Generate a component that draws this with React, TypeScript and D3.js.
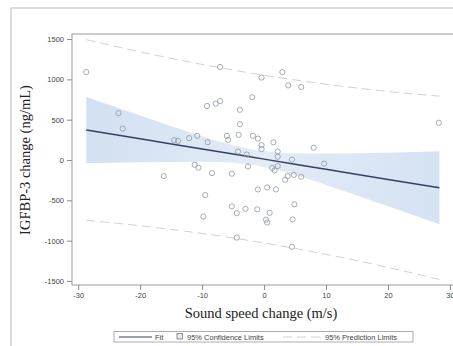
import React, { useEffect, useRef } from "react";
import * as d3 from "d3";

const xTicks = [-30, -20, -10, 0, 10, 20, 30];
const yTicks = [-1500, -1000, -500, 0, 500, 1000, 1500];

const pointX = [
  -28.7, -23.5, -22.8, -14.5, -13.9, -12.1, -10.8, -9.1, -7.1, -0.4, 2.95, 3.9, 6.0, -1.9, -3.9, -7.1,
  -7.8, -9.2, -3.9, -6.0, -5.8, -4.1, -1.8, -1.0, -0.4, -0.4, 1.5, -4.2, -2.8, 2.2, 2.2, 4.5, 8.0, 9.7,
  28.2, -11.2, -10.6, -8.4, -5.2, -2.6, 1.3, 1.7, 2.2, 3.4, 3.8, 4.8, 6.0, -16.2, -1.0, 0.5, 1.9, -9.5,
  -5.2, -4.4, -3.0, -1.1, 0.9, 4.9, -9.8, 0.3, 0.5, 4.6, -4.4, 4.5,
];
const pointY = [
  1090, 580, 390, 246, 238, 271, 300, 220, 1154, 1022, 1090, 925, 905, 778, 622, 730, 698, 670, 443, 298,
  250, 312, 300, 265, 185, 135, 220, 105, 68, 105, 40, 5, 152, -45, 462, -60, -95, -162, -170, -80, -98,
  -128, -75, -245, -200, -185, -208, -200, -365, -340, -365, -435, -575, -660, -605, -612, -655, -550,
  -700, -740, -775, -737, -962, -1075,
];

const bandX = [-28.7, -20, -10, -5, 0, 5, 10, 20, 28.3];
const fitY = [372, 263, 137, 74, 11, -52, -115, -241, -345];
const clUpper = [782, 553, 295, 182, 109, 83, 80, 91, 110];
const clLower = [-38, -27, -21, -34, -87, -187, -310, -573, -796];
const plUpper = [1492, 1341, 1185, 1115, 1051, 993, 940, 850, 792];
const plLower = [-748, -815, -911, -967, -1029, -1097, -1170, -1332, -1482];

const W = 453;
const H = 346;

export default function App() {
  const xAxisRef = useRef<SVGGElement>(null);
  const yAxisRef = useRef<SVGGElement>(null);

  const x = d3.scaleLinear().domain([-31, 31.3]).range([72, 458]);
  const y = d3.scaleLinear().domain([-1550, 1562.5]).range([285, 34]);

  useEffect(() => {
    const fmt = (d: any) => String(d);
    const xa = d3.axisBottom(x).tickValues(xTicks).tickFormat(fmt).tickSize(5).tickPadding(3).tickSizeOuter(0);
    const ya = d3.axisLeft(y).tickValues(yTicks).tickFormat(fmt).tickSize(5).tickPadding(3).tickSizeOuter(0);
    const gx = d3.select(xAxisRef.current!);
    gx.call(xa as any);
    const gy = d3.select(yAxisRef.current!);
    gy.call(ya as any);
    [gx, gy].forEach((g) => {
      g.select(".domain").remove();
      g.selectAll(".tick line").attr("stroke", "#8c8c8c").attr("stroke-width", 1);
      g.selectAll(".tick text")
        .attr("fill", "#444")
        .style("font-family", "'Liberation Sans', Arial, sans-serif")
        .style("font-size", "7.5px");
    });
  }, []);

  const idx = bandX.map((_, i) => i);
  const areaCL = d3
    .area<number>()
    .x((i) => x(bandX[i]))
    .y0((i) => y(clLower[i]))
    .y1((i) => y(clUpper[i]))
    .curve(d3.curveMonotoneX);
  const lineOf = (arr: number[]) =>
    d3
      .line<number>()
      .x((i) => x(bandX[i]))
      .y((i) => y(arr[i]))
      .curve(d3.curveMonotoneX)(idx) || "";

  return (
    <svg
      width={W}
      height={H}
      style={{ position: "absolute", left: 0, top: 0, background: "#fff" }}
    >
      <defs>
        <clipPath id="plotClip">
          <rect x={72} y={34} width={386} height={251} />
        </clipPath>
        <linearGradient id="bandGrad" x1="0" y1="0" x2="1" y2="0">
          <stop offset="0%" stopColor="#d3e0f1" />
          <stop offset="50%" stopColor="#e3ecf7" />
          <stop offset="100%" stopColor="#d5e2f2" />
        </linearGradient>
      </defs>
      {/* outer frame */}
      <rect x={11} y={8} width={470} height={370} fill="#fff" stroke="#c6c6c6" strokeWidth={1.2} />
      {/* plot frame */}
      <rect x={72} y={34} width={386} height={251} fill="#fff" stroke="#9a9a9a" strokeWidth={1} />
      <g clipPath="url(#plotClip)">
        <path d={areaCL(idx) || ""} fill="url(#bandGrad)" />
        <path d={lineOf(plUpper)} fill="none" stroke="#d2d2d2" strokeWidth={1} strokeDasharray="9,5" />
        <path d={lineOf(plLower)} fill="none" stroke="#d2d2d2" strokeWidth={1} strokeDasharray="9,5" />
        <path d={lineOf(fitY)} fill="none" stroke="#33425f" strokeWidth={1.5} />
        {pointX.map((px, i) => (
          <circle
            key={i}
            cx={x(px)}
            cy={y(pointY[i])}
            r={2.6}
            fill="none"
            stroke="#8e98a6"
            strokeWidth={0.8}
          />
        ))}
      </g>
      <g ref={xAxisRef} transform="translate(0,285)" />
      <g ref={yAxisRef} transform="translate(72,0)" />
      <text
        x={261}
        y={318}
        textAnchor="middle"
        fontFamily="'Liberation Serif', 'Times New Roman', serif"
        fontSize={14.5}
        fill="#222"
      >
        Sound speed change (m/s)
      </text>
      <text
        transform="translate(30,160) rotate(-90)"
        textAnchor="middle"
        fontFamily="'Liberation Serif', 'Times New Roman', serif"
        fontSize={14.5}
        fill="#222"
      >
        IGFBP-3 change (ng/mL)
      </text>
      {/* legend */}
      <g fontFamily="'Liberation Sans', Arial, sans-serif" fontSize={7.5} fill="#444">
        <rect x={114} y={331.5} width={299} height={10.5} fill="#fff" stroke="#9a9a9a" strokeWidth={0.8} />
        <line x1={119} x2={152} y1={337} y2={337} stroke="#33425f" strokeWidth={1} />
        <text x={155} y={339.5}>Fit</text>
        <rect x={177} y={333.5} width={5.5} height={5.5} fill="#e3ecf7" stroke="#666" strokeWidth={0.7} />
        <text x={187} y={339.5}>95% Confidence Limits</text>
        <line x1={283} x2={320} y1={337} y2={337} stroke="#d2d2d2" strokeWidth={1} strokeDasharray="9,5" />
        <text x={325} y={339.5}>95% Prediction Limits</text>
      </g>
    </svg>
  );
}
